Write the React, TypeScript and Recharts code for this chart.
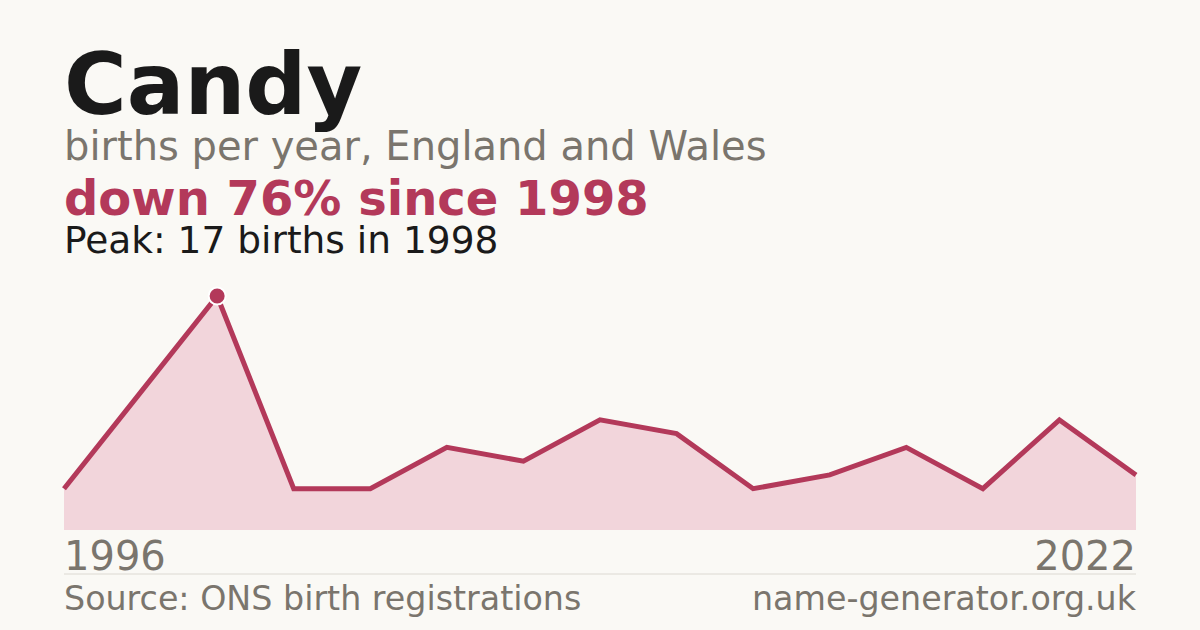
import { Area, AreaChart, XAxis, YAxis } from "recharts";

const YEARS = ["1996", "1997", "1998", "2000", "2002", "2004", "2006", "2008", "2010", "2012", "2014", "2016", "2018", "2020", "2022"];
const BIRTHS = [3, 10, 17, 3, 3, 6, 5, 8, 7, 3, 4, 6, 3, 8, 4];
const TICK_YEARS = ["1996", "2022"];

const BG = "#faf9f5";
const ACCENT = "#b3395a";
const FILL = "#f2d5db";
const INK = "#1a1a1a";
const MUTED = "#7a756d";
const FONT = "'DejaVu Sans', sans-serif";

const data = YEARS.map((year, i) => ({ year, births: BIRTHS[i] }));
const peak = Math.max(...BIRTHS);
const peakIdx = BIRTHS.indexOf(peak);

function YearTick(props: any) {
  const { x, y, payload } = props;
  const first = payload.value === TICK_YEARS[0];
  return (
    <text x={x} y={y + 40} textAnchor={first ? "start" : "end"} fill={MUTED} fontSize={40} fontFamily={FONT}>
      {payload.value}
    </text>
  );
}

function PeakDot(props: any) {
  const { cx, cy, index } = props;
  if (index !== peakIdx) return <g key={index} />;
  return <circle key={index} cx={cx} cy={cy} r={8.5} fill={ACCENT} stroke="#ffffff" strokeWidth={2} />;
}

export default function App() {
  return (
    <div style={{ position: "relative", width: 1200, height: 630, background: BG, fontFamily: FONT }}>
      <style>{`body{margin:0}`}</style>
      <AreaChart width={1200} height={630} data={data} margin={{ top: 296, right: 64, bottom: 50, left: 64 }}>
        <YAxis hide domain={[0, "dataMax"]} />
        <XAxis
          dataKey="year"
          ticks={TICK_YEARS}
          interval={0}
          axisLine={false}
          tickLine={false}
          tickSize={0}
          tickMargin={0}
          height={50}
          tick={<YearTick />}
        />
        <Area
          type="linear"
          dataKey="births"
          stroke={ACCENT}
          strokeWidth={5}
          fill={FILL}
          fillOpacity={1}
          dot={<PeakDot />}
          activeDot={false}
          isAnimationActive={false}
        />
      </AreaChart>
      <svg width={1200} height={630} style={{ position: "absolute", left: 0, top: 0, pointerEvents: "none" }}>
        <text x={64} y={114} fontSize={85.5} fontWeight="bold" fill={INK} fontFamily={FONT}>Candy</text>
        <text x={64} y={160} fontSize={40} fill={MUTED} fontFamily={FONT}>births per year, England and Wales</text>
        <text x={64} y={215} fontSize={48} fontWeight="bold" fill={ACCENT} fontFamily={FONT}>down 76% since 1998</text>
        <text x={64} y={253} fontSize={37.5} fill={INK} fontFamily={FONT}>Peak: 17 births in 1998</text>
        <line x1={64} x2={1136} y1={574} y2={574} stroke="#dcd9d2" strokeWidth={1} />
        <text x={64} y={610} fontSize={33.3} fill={MUTED} fontFamily={FONT}>Source: ONS birth registrations</text>
        <text x={1136} y={610} fontSize={33.3} fill={MUTED} fontFamily={FONT} textAnchor="end">name-generator.org.uk</text>
      </svg>
    </div>
  );
}
